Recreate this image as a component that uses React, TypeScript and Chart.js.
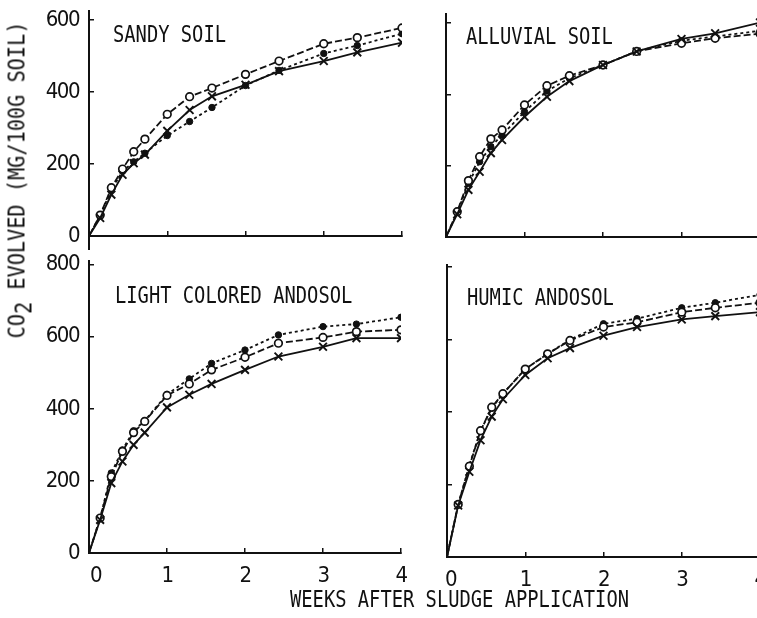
import React, { useEffect, useRef } from "react";
import { Chart, registerables } from "chart.js";

Chart.register(...registerables);

const TICK_FONT = "'DejaVu Sans Condensed', 'DejaVu Sans', sans-serif";
const LABEL_FONT = "'DejaVu Sans Mono', monospace";
const INK = "#111";

// Sampling times (weeks): days 0,1,2,3,4,5,7,9,11,14,17,21,24,28
const WEEKS = [0, 1 / 7, 2 / 7, 3 / 7, 4 / 7, 5 / 7, 1, 9 / 7, 11 / 7, 2, 17 / 7, 3, 24 / 7, 4];
const X_TICKS = [0, 1, 2, 3, 4];
const Y_TICKS_UPPER = [0, 200, 400, 600];
const Y_TICKS_LOWER = [0, 200, 400, 600, 800];

// Cumulative CO2 evolved (mg/100 g soil)
const SANDY_CROSS = [0, 50, 115, 170, 202, 226, 292, 350, 388, 420, 458, 486, 510, 537];
const SANDY_OPEN = [0, 58, 134, 186, 234, 269, 338, 387, 411, 449, 486, 534, 551, 578];
const SANDY_FILLED = [0, 58, 128, 180, 206, 230, 279, 318, 357, 418, 460, 507, 529, 562];

const ALLUVIAL_CROSS = [0, 64, 132, 183, 235, 272, 337, 393, 437, 482, 520, 555, 571, 601];
const ALLUVIAL_OPEN = [0, 71, 158, 225, 275, 300, 370, 424, 452, 482, 520, 543, 557, 570];
const ALLUVIAL_FILLED = [0, 69, 150, 211, 253, 286, 351, 409, 445, 482, 521, 550, 562, 578];

const LIGHT_CROSS = [0, 92, 194, 254, 300, 334, 404, 439, 469, 508, 545, 572, 596, 596];
const LIGHT_OPEN = [0, 97, 212, 282, 334, 365, 437, 469, 508, 543, 582, 598, 614, 619];
const LIGHT_FILLED = [0, 97, 222, 286, 339, 367, 440, 483, 526, 563, 605, 628, 635, 654];

const HUMIC_CROSS = [0, 142, 235, 322, 387, 435, 502, 548, 576, 610, 634, 655, 664, 675];
const HUMIC_OPEN = [0, 145, 250, 348, 413, 450, 518, 560, 597, 634, 647, 675, 687, 701];
const HUMIC_FILLED = [0, 145, 253, 348, 410, 450, 518, 560, 599, 643, 657, 687, 701, 723];

const PANEL_NAMES = ["SANDY SOIL", "ALLUVIAL SOIL", "LIGHT COLORED ANDOSOL", "HUMIC ANDOSOL"];

// Narrower glyph spacing for the tick numerals
const tightText = {
  id: "tightText",
  beforeUpdate(chart: any) {
    chart.ctx.letterSpacing = "-1.5px";
  },
  beforeDraw(chart: any) {
    chart.ctx.letterSpacing = "-1.5px";
  },
};

// Continues the vertical axis a little below the horizontal axis
const axisTail = {
  id: "axisTail",
  afterDraw(chart: any, _args: any, opts: any) {
    const len = opts && opts.length ? opts.length : 0;
    if (!len) return;
    const { ctx, chartArea } = chart;
    ctx.save();
    ctx.strokeStyle = INK;
    ctx.lineWidth = 2;
    ctx.beginPath();
    ctx.moveTo(chartArea.left, chartArea.bottom);
    ctx.lineTo(chartArea.left, chartArea.bottom + len);
    ctx.stroke();
    ctx.restore();
  },
};

type PanelProps = {
  left: number;
  top: number;
  width: number;
  height: number;
  axisLeft: number;
  axisBottom: number;
  padTop: number;
  padRight: number;
  yMax: number;
  yTicks: number[];
  showY: boolean;
  showX: boolean;
  zeroLabel: string;
  tail: number;
  cross: number[];
  open: number[];
  filled: number[];
};

function Panel(p: PanelProps) {
  const ref = useRef<HTMLCanvasElement>(null);

  useEffect(() => {
    const radius = (r: number) => WEEKS.map((_, i) => (i === 0 ? 0 : r));
    const pts = (vals: number[]) => WEEKS.map((w, i) => ({ x: w, y: vals[i] }));
    const tickFont = { family: TICK_FONT, size: 22 };

    const chart = new Chart(ref.current as HTMLCanvasElement, {
      type: "line",
      plugins: [tightText, axisTail],
      data: {
        datasets: [
          {
            label: "cross",
            data: pts(p.cross),
            borderColor: INK,
            borderWidth: 1.8,
            pointStyle: "crossRot",
            pointRadius: radius(5.5),
            pointBorderColor: INK,
            pointBorderWidth: 1.9,
            tension: 0,
            fill: false,
          },
          {
            label: "open",
            data: pts(p.open),
            borderColor: INK,
            borderWidth: 1.8,
            borderDash: [7, 3],
            pointStyle: "circle",
            pointRadius: radius(3.8),
            pointBackgroundColor: "#fff",
            pointBorderColor: INK,
            pointBorderWidth: 1.7,
            tension: 0,
            fill: false,
          },
          {
            label: "filled",
            data: pts(p.filled),
            borderColor: INK,
            borderWidth: 1.8,
            borderDash: [3, 3],
            pointStyle: "circle",
            pointRadius: radius(3.2),
            pointBackgroundColor: INK,
            pointBorderColor: INK,
            pointBorderWidth: 1,
            tension: 0,
            fill: false,
          },
        ],
      },
      options: {
        responsive: false,
        animation: false,
        events: [],
        layout: { padding: { top: p.padTop, right: p.padRight, left: 0, bottom: 0 } },
        plugins: {
          legend: { display: false },
          tooltip: { enabled: false },
          axisTail: { length: p.tail },
        } as any,
        scales: {
          x: {
            type: "linear",
            min: 0,
            max: 4,
            afterBuildTicks: (s: any) => {
              s.ticks = X_TICKS.map((v) => ({ value: v }));
            },
            afterFit: (s: any) => {
              s.height = p.height - p.axisBottom;
              s.paddingLeft = 0;
              s.paddingRight = 0;
              s.paddingTop = 0;
              s.paddingBottom = 0;
            },
            ticks: {
              display: p.showX,
              autoSkip: false,
              maxRotation: 0,
              padding: 15,
              color: INK,
              font: tickFont,
              callback: (v: any) => (v === 0 ? p.zeroLabel : String(v)),
            },
            grid: { drawOnChartArea: false, drawTicks: true, tickLength: -5, color: INK, lineWidth: 1.5 },
            border: { display: true, color: INK, width: 2 },
          },
          y: {
            type: "linear",
            min: 0,
            max: p.yMax,
            afterBuildTicks: (s: any) => {
              s.ticks = p.yTicks.map((v) => ({ value: v }));
            },
            afterFit: (s: any) => {
              s.width = p.axisLeft;
              s.paddingLeft = 0;
              s.paddingRight = 0;
              s.paddingTop = 0;
              s.paddingBottom = 0;
            },
            ticks: {
              display: p.showY,
              autoSkip: false,
              padding: 15,
              color: INK,
              font: tickFont,
            },
            grid: { drawOnChartArea: false, drawTicks: true, tickLength: -5, color: INK, lineWidth: 1.5 },
            border: { display: true, color: INK, width: 2 },
          },
        },
      },
    });
    return () => chart.destroy();
  }, []);

  return (
    <canvas
      ref={ref}
      width={p.width}
      height={p.height}
      style={{ position: "absolute", left: p.left, top: p.top, width: p.width, height: p.height }}
    />
  );
}

const textStyle: React.CSSProperties = {
  position: "absolute",
  fontFamily: LABEL_FONT,
  fontSize: 23,
  lineHeight: "23px",
  color: INK,
  whiteSpace: "nowrap",
  transformOrigin: "0 0",
  transform: "scaleX(0.816)",
};

export default function App() {
  return (
    <div
      style={{
        position: "fixed",
        left: 0,
        top: 0,
        width: 757,
        height: 618,
        overflow: "hidden",
        background: "#fff",
      }}
    >
      <Panel
        left={0} top={0} width={420} height={250}
        axisLeft={89} axisBottom={236} padTop={11} padRight={18}
        yMax={625} yTicks={Y_TICKS_UPPER} showY={true} showX={false} zeroLabel="0" tail={14}
        cross={SANDY_CROSS} open={SANDY_OPEN} filled={SANDY_FILLED}
      />
      <Panel
        left={420} top={0} width={360} height={250}
        axisLeft={26} axisBottom={237} padTop={14} padRight={20}
        yMax={625} yTicks={Y_TICKS_UPPER} showY={false} showX={false} zeroLabel="0" tail={0}
        cross={ALLUVIAL_CROSS} open={ALLUVIAL_OPEN} filled={ALLUVIAL_FILLED}
      />
      <Panel
        left={0} top={250} width={420} height={340}
        axisLeft={89} axisBottom={303} padTop={11} padRight={19}
        yMax={810} yTicks={Y_TICKS_LOWER} showY={true} showX={true} zeroLabel={"\u2002 0"} tail={0}
        cross={LIGHT_CROSS} open={LIGHT_OPEN} filled={LIGHT_FILLED}
      />
      <Panel
        left={420} top={250} width={360} height={340}
        axisLeft={27} axisBottom={307} padTop={15} padRight={20}
        yMax={805} yTicks={Y_TICKS_LOWER} showY={false} showX={true} zeroLabel={"\u2009 0"} tail={0}
        cross={HUMIC_CROSS} open={HUMIC_OPEN} filled={HUMIC_FILLED}
      />

      <div style={{ ...textStyle, left: 113, top: 22.5 }}>{PANEL_NAMES[0]}</div>
      <div style={{ ...textStyle, left: 466, top: 24.5 }}>{PANEL_NAMES[1]}</div>
      <div style={{ ...textStyle, left: 115, top: 283.5 }}>{PANEL_NAMES[2]}</div>
      <div style={{ ...textStyle, left: 467, top: 285.5 }}>{PANEL_NAMES[3]}</div>

      <div
        style={{
          ...textStyle,
          left: 17,
          top: 180,
          transformOrigin: "50% 50%",
          transform: "translate(-50%, -50%) rotate(-90deg) scaleX(0.88)",
        }}
      >
        CO<sub style={{ fontSize: "1em", verticalAlign: "-0.3em", lineHeight: 0 }}>2</sub> EVOLVED (MG/100G SOIL)
      </div>
      <div style={{ ...textStyle, left: 290, top: 587.5 }}>WEEKS AFTER SLUDGE APPLICATION</div>
    </div>
  );
}
